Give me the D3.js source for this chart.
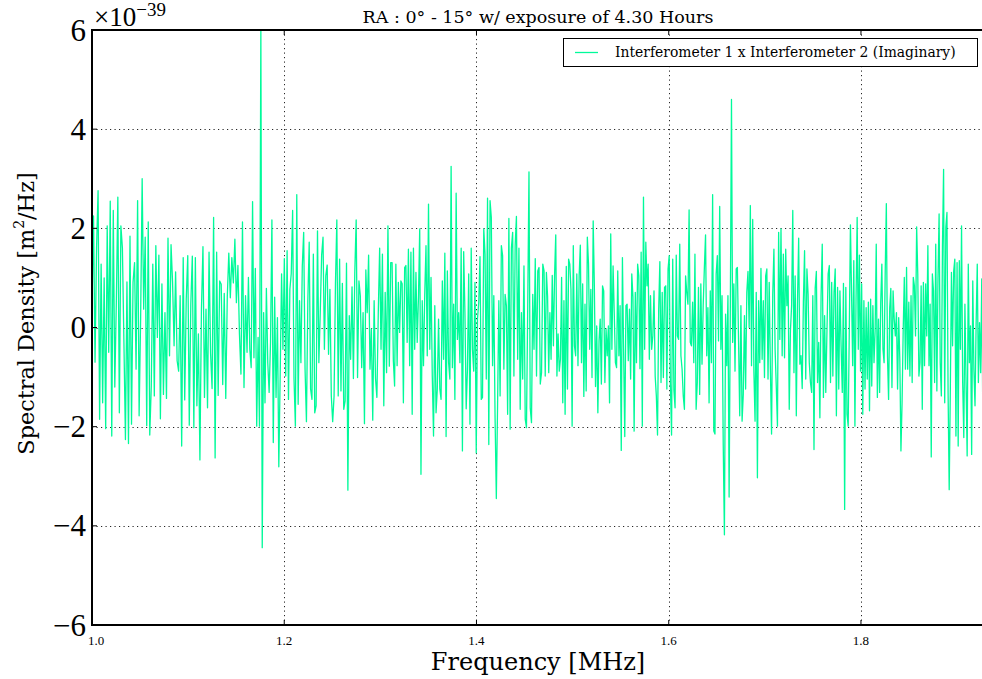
<!DOCTYPE html>
<html>
<head>
<meta charset="utf-8">
<script src="https://cdn.jsdelivr.net/npm/d3@7"></script>
<style>
body { margin: 0; background: #fff; }
svg { display: block; }
text { font-family: "DejaVu Serif", "Liberation Serif", serif; fill: #000; }
.num { font-family: "Liberation Serif", "DejaVu Serif", serif; }
</style>
</head>
<body>
<div id="chart"></div>
<script>
// frequency (MHz) where each block of readings starts / ends
const segEdges = [1.000, 1.1613, 1.3122, 1.4703, 1.6285, 1.7867, 1.928];

// spectral density, units of 1e-39 m^2/Hz, read block by block off the plot
const seg1 = [0.4, 2.25, -0.7, 1.6, 2.76, -1.85, 1.28, -1.52, 1.0, -2.04, 2.05, -0.5, 2.55, -2.19, 2.36, -1.2, 0.5, 2.63, -1.72, 2.05, 1.6, -0.3, -2.26, 0.92, -2.34, 1.84, -1.95, 0.91, 1.31, -0.84, 2.56, -1.78, 0.2, 3.0, 0.37, 1.82, -1.98, 2.13, -2.17, -1.18, 1.28, -1.38, 1.65, -0.2, 1.46, -1.84, 0.88, -1.35, 0.3, -1.43, 1.8, -0.57, 1.67, 0.91, -0.37, 1.12, -0.67, -0.88, 0.64, -2.39, 1.41, -1.46, 0.57, 1.45, -1.97, 0.47, 1.44, -2.02, 1.41, -1.58, -0.13, -2.67, 0.37, 1.63, -1.41, 0.37, -1.62, 1.52, -0.52, -1.23, 2.22, -2.63, 1.52, -1.37, 0.94, 0.87, -1.15, 0.69, -1.43, 0.61, 1.5, 0.6, 1.41, 0.9, 1.78, 0.5, 1.25, -0.13, -0.94, 2.13, -1.21, 0.64];
const seg2 = [-0.5, 1.01, -0.44, -0.81, 2.54, -0.61, 1.19, -1.99, -0.2, -1.99, 6.0, -4.44, 0.3, -1.52, 0.79, -0.71, -1.31, -0.3, 2.17, -2.32, 0.61, -1.41, 0.2, -2.81, -0.95, 1.08, -0.44, 1.39, -0.98, 1.55, -1.45, 0.77, 1.09, 2.36, -1.04, -1.99, 2.68, -1.55, 0.54, -0.71, 1.24, 1.92, -0.84, -1.9, 0.54, 1.72, -1.24, -1.45, 1.48, -1.72, -1.58, 1.95, -0.71, 0.3, 1.46, 1.82, -0.44, 1.04, 1.26, -0.54, 0.77, -1.38, -1.9, -1.38, 0.88, 2.17, -1.38, 1.38, -1.28, 0.89, -1.65, -1.48, 1.3, -3.28, 0.24, -0.64, 0.82, -1.03, 1.11, 2.17, -1.01, 0.94, 0.64, -0.81, 0.3, -1.94, 1.16, 0.3, 1.46, -0.84, -0.03, -1.87, 0.54, -1.03, -1.41, 0.29, 1.6, -0.44, 1.48, -1.58, 0.71, -0.91, 2.05, -0.78, 1.31];
const seg3 = [1.31, -0.67, -1.18, 1.28, -0.77, 0.91, -0.1, 0.94, 0.88, -1.52, 1.21, 1.25, -0.3, 1.58, -0.77, 1.52, -1.75, 1.6, -0.44, 1.11, -0.3, 0.61, 1.99, -2.96, 0.54, -0.77, 0.67, 1.65, -0.57, 2.49, -0.44, 1.01, -0.98, -2.19, 0.44, -1.72, -1.24, 0.17, -1.24, -1.45, 0.94, -0.64, 1.5, -2.2, 1.14, -0.71, -1.04, 3.25, -0.81, 0.47, -1.45, 2.71, -0.24, 0.3, -0.71, 1.6, -2.49, 1.53, 0.3, -1.64, -0.84, 1.08, -1.95, 1.6, -0.44, -0.88, 0.91, -2.53, 0.17, 0.51, 1.43, -1.45, -1.41, 1.99, 1.48, -1.04, 2.61, -2.36, 2.56, 2.22, -0.77, 0.64, -1.82, -3.45, -1.55, 0.54, -1.38, 1.65, 1.45, -0.84, 0.67, 0.44, -1.75, 2.2, -2.05, 1.6, 1.92, -0.98, 1.65, 2.24, -0.64, 1.6, -1.65, 0.3, -1.04, 1.24, -1.85, -2.02, 0.44, 3.14, -1.62, -1.92, 0.67, -0.44, 1.39, -0.98, 1.14, 1.21, -1.14, -0.91, 1.28];
const seg4 = [1.14, -0.98, 1.11, 0.64, -0.91, 0.3, -0.64, 1.05, -0.37, 1.06, 1.87, -0.98, -0.13, -0.88, -0.64, 1.01, -1.52, 0.54, -1.75, 1.23, -1.24, 1.38, 1.28, 0.77, -1.99, 1.65, -0.37, -0.57, 1.08, -0.77, 1.04, 1.66, -0.71, 0.88, -1.39, 0.47, -1.28, 1.82, 1.28, -0.44, 0.77, -1.01, 2.15, 0.84, -1.19, 0.03, -1.72, -0.27, 0.17, -1.14, 0.84, 0.74, -1.11, -0.03, -0.57, 0.03, -1.52, 1.89, -0.44, 1.24, 0.3, -0.71, -0.81, 1.14, -0.57, 0.44, -2.48, 1.41, -0.44, -2.2, 0.44, 0.47, -0.67, 0.37, -1.04, 1.08, 0.61, -2.09, 0.71, -0.71, 1.28, 1.04, -0.83, 1.52, -1.99, 2.63, -0.44, 1.72, 0.84, 1.28, -0.64, 0.64, -0.44, -0.17, 0.74, -0.98, -1.38, -2.17, 0.37, 1.33, -1.11, 0.71, -1.01, 0.81, 0.84, -1.24, 1.18, 1.45, -1.14, -2.17, 1.38, -1.26, -1.62, 1.46, -0.17, -0.24, 1.68, -0.57, -0.84, -1.38, -1.65, 1.04, 0.71, 0.47, 2.37, -0.3, -0.37, 0.51, -0.71, 1.48];
const seg5 = [-1.65, -1.11, 0.81, -1.35, 0.88, -0.74, 0.44, 1.21, 1.87, -0.57, 0.4, -1.52, 0.74, -0.71, 2.68, -2.09, -2.15, 1.08, 1.45, -0.27, 2.44, -0.44, 0.64, -2.36, -4.18, 0.27, -0.77, 0.64, -3.42, 0.3, 4.6, -0.3, 0.88, -0.88, 1.18, 1.21, -0.27, -1.78, 0.44, -1.89, -1.35, 0.24, -1.24, 0.71, 1.13, 0.0, 2.46, -0.77, 2.18, -0.88, -1.89, 0.71, -3.03, 0.54, -0.71, 1.19, -0.64, 0.54, -1.01, 1.04, 1.18, -1.04, 0.91, -0.84, -2.15, 0.66, 1.58, -0.44, -1.19, -1.99, 1.92, -0.24, 1.99, -0.57, 1.48, -0.61, 1.58, 0.44, 1.04, -1.65, -0.07, 0.44, 2.36, -0.91, 1.04, -1.78, 0.54, 1.8, -0.74, -0.57, -1.23, 0.52, 1.55, -1.04, 1.18, 0.67, -0.71, -1.11, -1.31, 0.64, -2.46, 0.79, 1.13, -1.11, -0.3, -1.82, 0.64, 1.68, -1.41, 0.24, -1.31, -0.07, 1.08, 1.25, -1.11, 0.91, -0.98, 0.71, 1.18, -1.78, 0.81, -1.24, 0.74, -0.37, -1.31, 0.89, -3.67, 0.81, -1.75];
const seg6 = [-1.99, -0.03, 2.07, 0.71, -0.77, 1.35, -1.99, 0.57, 2.22, -0.44, 1.46, -0.88, 0.88, -1.75, 0.54, -1.24, 0.4, -1.04, 0.51, -1.68, 0.57, -1.18, 0.44, -0.71, -0.07, 1.68, -1.41, 0.17, -1.31, 0.51, 1.28, -0.44, -0.71, 1.14, 2.5, -0.57, -1.45, 0.4, 0.79, -1.21, 0.74, 0.17, -0.17, 0.3, -1.24, 0.2, -0.64, -2.49, -1.52, -0.07, 1.01, -0.84, 1.21, -0.84, 0.51, -0.98, 0.64, -1.11, 1.01, 0.84, -0.17, 2.03, 1.08, -0.98, -0.71, 0.84, -1.65, 0.91, -0.77, 0.88, -0.17, 1.65, -0.77, 0.47, -2.61, 1.08, 0.74, -1.11, 1.68, -1.28, 0.98, 2.29, -0.71, -1.38, 1.65, 3.19, -1.52, 2.02, 2.32, -1.31, -3.27, -1.25, 1.11, -0.37, 1.14, 1.38, -2.19, 1.31, -2.39, 1.35, -0.44, 2.05, -1.11, -2.22, 0.47, -1.11, -2.59, 1.28, -0.71, 0.03, -2.56, 0.94, -0.84, -1.58, 0.1, 1.28, -1.11, 0.1, -0.91, 0.98, -1.95, 0.64];
const segments = [seg1, seg2, seg3, seg4, seg5, seg6];

const yTicks = [-6, -4, -2, 0, 2, 4, 6];
const xTicks = [1.0, 1.2, 1.4, 1.6, 1.8];
const seriesName = "Interferometer 1 x Interferometer 2 (Imaginary)";

const width = 982, height = 679;
const plotL = 92, plotT = 30, plotR = 984, plotB = 625;
const lineColor = "#00fa9a";

// spread each block's readings evenly across its frequency span
const points = [];
segments.forEach((vals, i) => {
  const f0 = segEdges[i], f1 = segEdges[i + 1];
  const n = i === segments.length - 1 ? vals.length - 1 : vals.length;
  vals.forEach((v, j) => points.push([f0 + (f1 - f0) * j / n, v]));
});

const svg = d3.select("#chart")
  .append("svg")
  .attr("width", width)
  .attr("height", height);

const x = d3.scaleLinear().domain([1.0, segEdges[segEdges.length - 1]]).range([plotL, plotR]);
const y = d3.scaleLinear().domain([-6, 6]).range([plotB, plotT]);

svg.append("clipPath").attr("id", "plot")
  .append("rect").attr("x", plotL).attr("y", plotT)
  .attr("width", plotR - plotL).attr("height", plotB - plotT);

// grid
const grid = svg.append("g").attr("stroke", "#000").attr("stroke-width", 1)
  .attr("stroke-dasharray", "1.2,3.3").attr("opacity", 0.85);
grid.selectAll("line.gx")
  .data(xTicks.slice(1))
  .join("line")
  .attr("class", "gx")
  .attr("x1", d => Math.round(x(d)) + 0.5).attr("x2", d => Math.round(x(d)) + 0.5)
  .attr("y1", plotT).attr("y2", plotB);
grid.selectAll("line.gy")
  .data(yTicks.slice(1, -1))
  .join("line")
  .attr("class", "gy")
  .attr("y1", d => Math.round(y(d)) + 0.5).attr("y2", d => Math.round(y(d)) + 0.5)
  .attr("x1", plotL).attr("x2", plotR);

// series
svg.append("path")
  .datum(points)
  .attr("clip-path", "url(#plot)")
  .attr("fill", "none")
  .attr("stroke", lineColor)
  .attr("stroke-width", 1.3)
  .attr("stroke-linejoin", "round")
  .attr("d", d3.line().x(d => x(d[0])).y(d => y(d[1])));

// inward ticks on all sides
const ticks = svg.append("g").attr("stroke", "#000").attr("stroke-width", 1);
ticks.selectAll("line.tb")
  .data(xTicks)
  .join("line")
  .attr("class", "tb")
  .attr("x1", d => x(d)).attr("x2", d => x(d))
  .attr("y1", plotB).attr("y2", plotB - 5);
ticks.selectAll("line.tt")
  .data(xTicks)
  .join("line")
  .attr("class", "tt")
  .attr("x1", d => x(d)).attr("x2", d => x(d))
  .attr("y1", plotT).attr("y2", plotT + 5);
ticks.selectAll("line.tl")
  .data(yTicks)
  .join("line")
  .attr("class", "tl")
  .attr("x1", plotL).attr("x2", plotL + 5)
  .attr("y1", d => y(d)).attr("y2", d => y(d));

// frame
svg.append("rect")
  .attr("x", plotL).attr("y", plotT)
  .attr("width", plotR - plotL).attr("height", plotB - plotT)
  .attr("fill", "none").attr("stroke", "#000").attr("stroke-width", 2);

// tick labels
svg.append("g").selectAll("text")
  .data(yTicks)
  .join("text")
  .attr("class", "num")
  .attr("x", plotL - 6)
  .attr("y", d => y(d))
  .attr("dy", "0.34em")
  .attr("text-anchor", "end")
  .style("font-size", "31px")
  .text(d => d < 0 ? "\u2212" + Math.abs(d) : d);

// the first label is nudged right so it clears the "−6" above it
svg.append("g").selectAll("text")
  .data(xTicks)
  .join("text")
  .attr("class", "num")
  .attr("x", (d, i) => x(d) + (i === 0 ? 4 : 0))
  .attr("y", plotB + 20)
  .attr("text-anchor", "middle")
  .style("font-size", "13px")
  .text(d => d.toFixed(1));

// offset / exponent
const off = svg.append("text").attr("class", "num").attr("x", plotL + 2).attr("y", 26).style("font-size", "27px");
off.append("tspan").text("\u00d710");
off.append("tspan").attr("dy", -10).style("font-size", "19px").text("\u221239");

// title
svg.append("text")
  .attr("x", (plotL + plotR) / 2)
  .attr("y", 23)
  .attr("text-anchor", "middle")
  .style("font-size", "17.5px")
  .text("RA : 0\u00b0 - 15\u00b0 w/ exposure of 4.30 Hours");

// axis labels
svg.append("text")
  .attr("x", (plotL + plotR) / 2)
  .attr("y", 670)
  .attr("text-anchor", "middle")
  .style("font-size", "24px")
  .text("Frequency [MHz]");

const yl = svg.append("text")
  .attr("transform", `translate(34,${(plotT + plotB) / 2 - 14}) rotate(-90)`)
  .attr("text-anchor", "middle")
  .style("font-size", "22.4px");
yl.append("tspan").text("Spectral Density [m");
yl.append("tspan").attr("dy", -10).style("font-size", "14px").text("2");
yl.append("tspan").attr("dy", 10).text("/Hz]");

// legend
const lg = svg.append("g");
lg.append("rect")
  .attr("x", 563.5).attr("y", 38.5).attr("width", 414).attr("height", 28)
  .attr("fill", "#fff").attr("stroke", "#000").attr("stroke-width", 1);
lg.append("line")
  .attr("x1", 575).attr("x2", 598).attr("y1", 52.5).attr("y2", 52.5)
  .attr("stroke", lineColor).attr("stroke-width", 1.3);
lg.append("text")
  .attr("x", 615).attr("y", 52.5).attr("dy", "0.35em")
  .style("font-size", "13.9px")
  .text(seriesName);
</script>
</body>
</html>
